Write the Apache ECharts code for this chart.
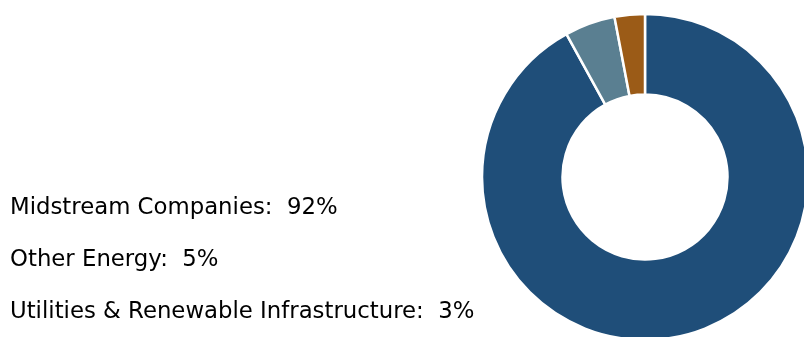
<!DOCTYPE html>
<html>
<head>
<meta charset="utf-8">
<script src="https://cdn.jsdelivr.net/npm/echarts@6/dist/echarts.min.js"></script>
<style>html,body{margin:0;padding:0;background:#fff;}#c{width:804px;height:337px;}</style>
</head>
<body>
<div id="c"></div>
<script>
const categories = ["Midstream Companies", "Other Energy", "Utilities & Renewable Infrastructure"];
const values = [92, 5, 3];
const colors = ["#1F4E79", "#5A7F91", "#9B5B17"];

const chart = echarts.init(document.getElementById('c'), null, {renderer: 'canvas'});
chart.setOption({
  animation: false,
  backgroundColor: '#fff',
  legend: {
    orient: 'vertical',
    left: 5,
    top: 182,
    height: 200,
    padding: 0,
    icon: 'none',
    itemWidth: 0,
    itemGap: 0,
    selectedMode: false,
    data: categories,
    formatter: function (name) {
      const i = categories.indexOf(name);
      return name + ':  ' + values[i] + '%';
    },
    textStyle: {fontFamily: 'DejaVu Sans', fontSize: 22.8, lineHeight: 52, color: '#000'}
  },
  series: [{
    type: 'pie',
    center: [645, 177],
    radius: [82.5, 163],
    startAngle: 90,
    clockwise: true,
    label: {show: false},
    labelLine: {show: false},
    emphasis: {disabled: true},
    itemStyle: {borderColor: '#fff', borderWidth: 2.5},
    data: categories.map((n, i) => ({name: n, value: values[i], itemStyle: {color: colors[i]}}))
  }]
});
</script>
</body>
</html>
